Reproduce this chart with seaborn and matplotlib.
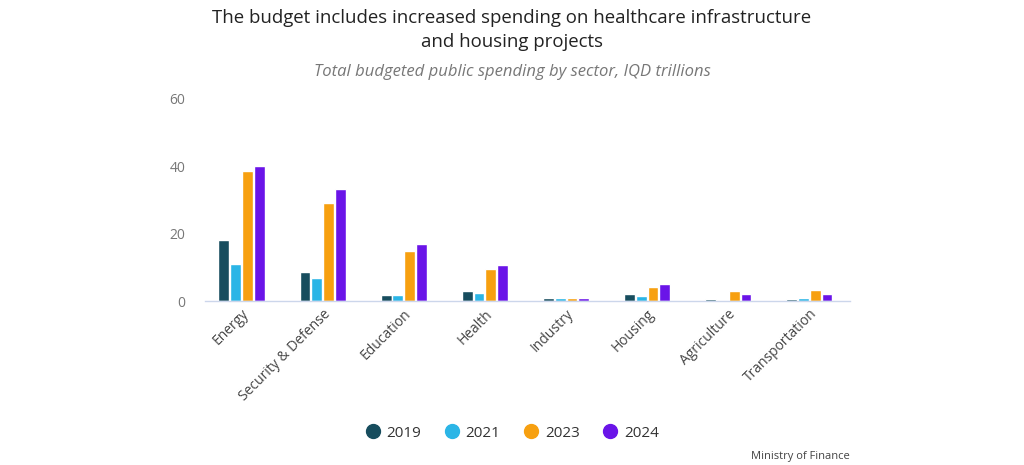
import matplotlib
matplotlib.use("Agg")
import matplotlib.pyplot as plt
import seaborn as sns
import pandas as pd
from matplotlib.lines import Line2D

sectors = ["Energy", "Security & Defense", "Education", "Health", "Industry",
           "Housing", "Agriculture", "Transportation"]
years = ["2019", "2021", "2023", "2024"]
v2019 = [18.0, 8.7, 1.8, 2.9, 0.8, 2.2, 0.5, 0.5]
v2021 = [11.1, 6.9, 1.8, 2.5, 0.8, 1.5, 0.0, 0.9]
v2023 = [38.7, 29.0, 14.9, 9.4, 0.8, 4.2, 2.9, 3.2]
v2024 = [40.1, 33.2, 16.9, 10.8, 0.8, 5.0, 2.2, 2.2]
yticks = [0, 20, 40, 60]
colors = ["#174d5e", "#2bb5e6", "#f7a010", "#6a14e8"]

rows = []
for yr, vals in zip(years, [v2019, v2021, v2023, v2024]):
    for s, v in zip(sectors, vals):
        rows.append({"Sector": s, "Year": yr, "Value": v})
df = pd.DataFrame(rows)

sns.set_theme(style="white")
plt.rcParams['font.family'] = ['Open Sans', 'DejaVu Sans']

fig = plt.figure(figsize=(10.24, 4.65), dpi=100)
ax = fig.add_axes([205/1024, 1-301/465, (850-205)/1024, (301-99)/465])

sns.barplot(data=df, x="Sector", y="Value", hue="Year", palette=colors,
            width=0.58, gap=0.08, ax=ax, legend=False, saturation=1)

ax.set_ylim(0, 60)
ax.set_xlim(-0.45, 7.5)
ax.set_yticks(yticks)
ax.set_yticklabels([str(t) for t in yticks], color="#777777", fontsize=10)
ax.set_xlabel("")
ax.set_ylabel("")
for s in ["top", "right", "left"]:
    ax.spines[s].set_visible(False)
ax.spines["bottom"].set_color("#ccd6eb")
ax.spines["bottom"].set_linewidth(1)
ax.tick_params(axis="y", length=0, pad=14)
ax.tick_params(axis="x", length=0, pad=4)
ax.set_xticks(range(len(sectors)))
ax.set_xticklabels(sectors, rotation=45, ha="right", rotation_mode="anchor",
                   color="#444444", fontsize=10)

fig.text(0.5, 1-18/465, "The budget includes increased spending on healthcare infrastructure",
         ha="center", va="center", fontsize=13.4, color="#222222")
fig.text(0.5, 1-42/465, "and housing projects",
         ha="center", va="center", fontsize=13.4, color="#222222")
fig.text(0.5, 1-72/465, "Total budgeted public spending by sector, IQD trillions",
         ha="center", va="center", fontsize=12, color="#777777", style="italic")

handles = [Line2D([0], [0], marker="o", color="none", markerfacecolor=c,
                  markeredgecolor=c, markersize=10) for c in colors]
fig.legend(handles, years, loc="center", bbox_to_anchor=(512/1024, 1-433/465),
           ncol=4, frameon=False, fontsize=11, handletextpad=0.4,
           handlelength=1.0, columnspacing=1.5, labelcolor="#333333")

fig.text(850/1024, 1-456/465, "Ministry of Finance", ha="right", va="center",
         fontsize=8, color="#444444")

fig.savefig("out.png", dpi=100)
